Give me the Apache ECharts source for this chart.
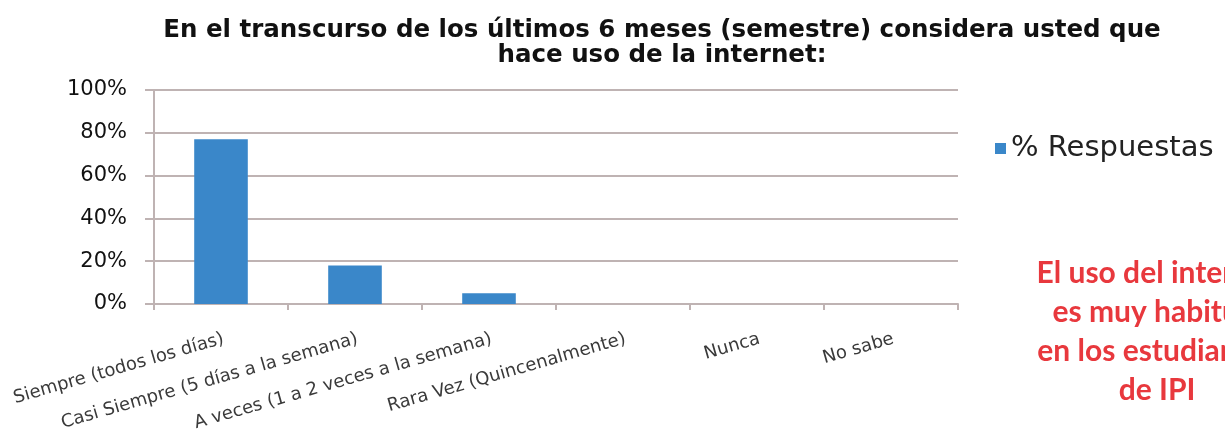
<!DOCTYPE html>
<html>
<head>
<meta charset="utf-8">
<script src="https://cdn.jsdelivr.net/npm/echarts@6/dist/echarts.min.js"></script>
<style>
  html, body { margin: 0; padding: 0; background: #fff; }
  #chart { width: 1225px; height: 441px; }
</style>
</head>
<body>
<div id="chart"></div>
<script>
// datos
const categorias = [
  "Siempre (todos los días)",
  "Casi Siempre (5 días a la semana)",
  "A veces (1 a 2 veces a la semana)",
  "Rara Vez (Quincenalmente)",
  "Nunca",
  "No sabe",
];
const respuestas = [77, 18, 5, 0, 0, 0];
const serieNombre = "% Respuestas";
const titulo = "En el transcurso de los últimos 6 meses (semestre) considera usted que\nhace uso de la internet:";
const nota = "El uso del internet\nes muy habitual\nen los estudiantes\nde IPI";

const fuente = "DejaVu Sans, Arial, sans-serif";
const lineaGris = "#bfb3b3";
const azul = "#3a87c9";

const chart = echarts.init(document.getElementById("chart"));

chart.setOption({
  animation: false,
  title: {
    text: titulo,
    left: 657,
    top: 13,
    textAlign: "center",
    textStyle: {
      fontFamily: fuente,
      fontSize: 24.5,
      fontWeight: "bold",
      color: "#111",
      lineHeight: 25,
    },
  },
  legend: {
    data: [serieNombre],
    left: 990,
    top: 129,
    icon: "rect",
    itemWidth: 11,
    itemHeight: 11,
    textStyle: {
      fontFamily: fuente,
      fontSize: 29,
      color: "#222",
    },
  },
  grid: {
    left: 154,
    right: 267,
    top: 90,
    bottom: 137,
  },
  xAxis: {
    type: "category",
    data: categorias,
    axisLine: { lineStyle: { color: lineaGris, width: 2 } },
    axisTick: { show: true, length: 6, lineStyle: { color: lineaGris, width: 2 } },
    axisLabel: {
      interval: 0,
      rotate: 16,
      margin: 26,
      align: "right",
      verticalAlign: "top",
      fontFamily: fuente,
      fontSize: 18,
      color: "#3a3a3a",
    },
  },
  yAxis: {
    type: "value",
    min: 0,
    max: 100,
    interval: 20,
    axisLine: { show: true, lineStyle: { color: lineaGris, width: 2 } },
    axisTick: { show: true, length: 9, lineStyle: { color: lineaGris, width: 2 } },
    splitLine: { lineStyle: { color: lineaGris, width: 2 } },
    axisLabel: {
      formatter: "{value}%",
      margin: 27,
      fontFamily: fuente,
      fontSize: 21,
      color: "#111",
    },
  },
  series: [
    {
      name: serieNombre,
      type: "bar",
      data: respuestas,
      barWidth: "40%",
      itemStyle: { color: azul },
    },
  ],
  graphic: [
    {
      type: "text",
      x: 1157,
      y: 254,
      style: {
        text: nota,
        align: "center",
        verticalAlign: "top",
        font: "bold 30px Lato, 'Open Sans', sans-serif",
        lineHeight: 39,
        fill: "#e8383d",
      },
    },
  ],
});
</script>
</body>
</html>
